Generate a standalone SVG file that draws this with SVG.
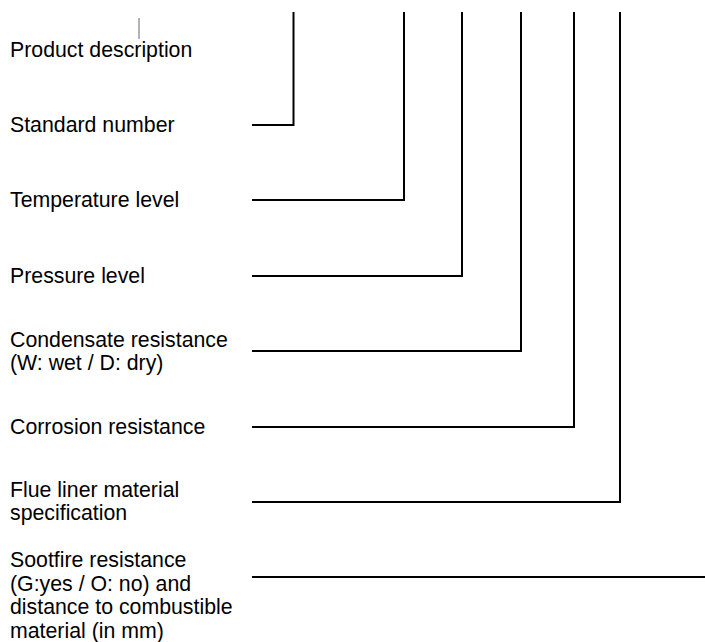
<svg xmlns="http://www.w3.org/2000/svg" width="705" height="642" viewBox="0 0 705 642">
<style>
text{font-family:"Liberation Sans",Arial,sans-serif;font-size:21.3px;fill:#000}
.c{fill:none;stroke:#000;stroke-width:2}
</style>
<rect width="705" height="642" fill="#fff"/>
<g id="connectors">
<path class="c" d="M252 125H293.5V12"/>
<path class="c" d="M252 200H404V12"/>
<path class="c" d="M252 276H462V12"/>
<path class="c" d="M252 351H521V12"/>
<path class="c" d="M252 427H574V12"/>
<path class="c" d="M252 502H620V12"/>
<path class="c" d="M252 577H705"/>
<path d="M139 18V39" stroke="#666" stroke-width="1"/>
</g>
<g id="product-description"><text x="10" y="57">Product description</text></g>
<g id="standard-number"><text x="10" y="132">Standard number</text></g>
<g id="temperature-level"><text x="10" y="207">Temperature level</text></g>
<g id="pressure-level"><text x="10" y="283">Pressure level</text></g>
<g id="condensate-resistance"><text x="10" y="347">Condensate resistance</text><text x="10" y="370">(W: wet / D: dry)</text></g>
<g id="corrosion-resistance"><text x="10" y="434">Corrosion resistance</text></g>
<g id="flue-liner"><text x="10" y="497">Flue liner material</text><text x="10" y="520">specification</text></g>
<g id="sootfire-resistance"><text x="10" y="567">Sootfire resistance</text><text x="10" y="591">(G:yes / O: no) and</text><text x="10" y="614">distance to combustible</text><text x="10" y="638">material (in mm)</text></g>
</svg>
